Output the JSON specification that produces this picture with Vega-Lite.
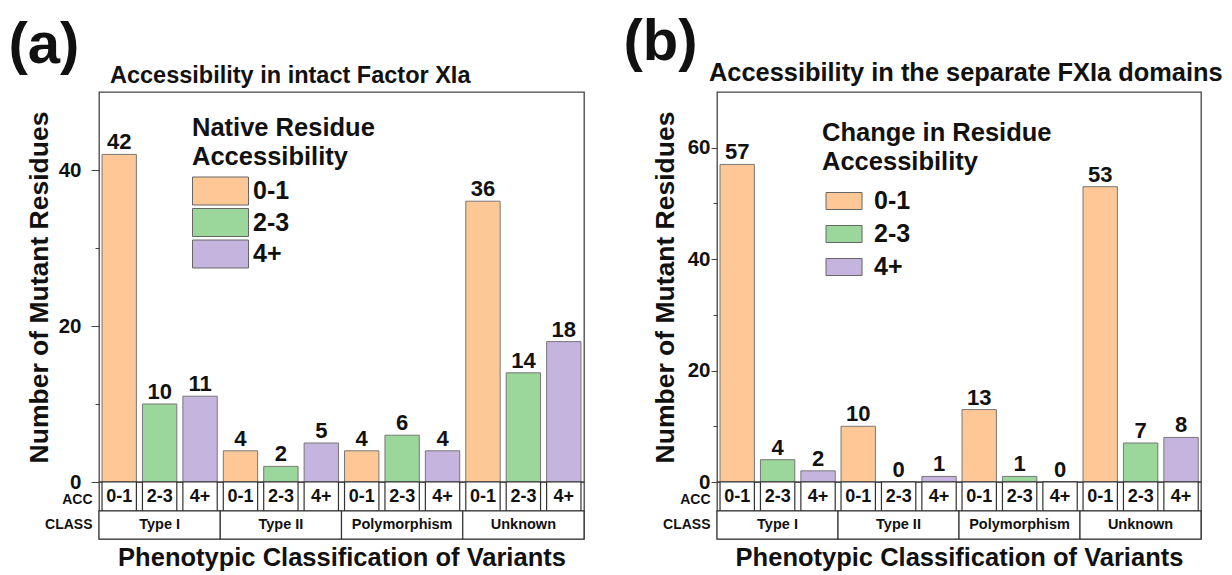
{
  "$schema": "https://vega.github.io/schema/vega-lite/v6.json",
  "background": "white",
  "padding": {"left": 8, "top": 13, "right": 0, "bottom": 0},
  "config": {
    "font": "Liberation Sans",
    "view": {"stroke": "#444", "strokeWidth": 1.3},
    "axis": {"labelColor": "#111", "titleColor": "#111", "grid": false},
    "text": {"color": "#111"},
    "title": {"color": "#111"},
    "legend": {"labelColor": "#111", "titleColor": "#111"}
  },
  "datasets": {
    "a": [
      {"cls": "Type I", "acc": "0-1", "n": 42},
      {"cls": "Type I", "acc": "2-3", "n": 10},
      {"cls": "Type I", "acc": "4+", "n": 11},
      {"cls": "Type II", "acc": "0-1", "n": 4},
      {"cls": "Type II", "acc": "2-3", "n": 2},
      {"cls": "Type II", "acc": "4+", "n": 5},
      {"cls": "Polymorphism", "acc": "0-1", "n": 4},
      {"cls": "Polymorphism", "acc": "2-3", "n": 6},
      {"cls": "Polymorphism", "acc": "4+", "n": 4},
      {"cls": "Unknown", "acc": "0-1", "n": 36},
      {"cls": "Unknown", "acc": "2-3", "n": 14},
      {"cls": "Unknown", "acc": "4+", "n": 18}
    ],
    "b": [
      {"cls": "Type I", "acc": "0-1", "n": 57},
      {"cls": "Type I", "acc": "2-3", "n": 4},
      {"cls": "Type I", "acc": "4+", "n": 2},
      {"cls": "Type II", "acc": "0-1", "n": 10},
      {"cls": "Type II", "acc": "2-3", "n": 0},
      {"cls": "Type II", "acc": "4+", "n": 1},
      {"cls": "Polymorphism", "acc": "0-1", "n": 13},
      {"cls": "Polymorphism", "acc": "2-3", "n": 1},
      {"cls": "Polymorphism", "acc": "4+", "n": 0},
      {"cls": "Unknown", "acc": "0-1", "n": 53},
      {"cls": "Unknown", "acc": "2-3", "n": 7},
      {"cls": "Unknown", "acc": "4+", "n": 8}
    ],
    "classes": [
      {"cls": "Type I"},
      {"cls": "Type II"},
      {"cls": "Polymorphism"},
      {"cls": "Unknown"}
    ]
  },
  "resolve": {"scale": {"color": "independent"}, "legend": {"color": "independent"}},
  "spacing": 37,
  "hconcat": [
    {
      "title": {"text": "(a)", "fontSize": 58, "fontWeight": "bold", "anchor": "start", "frame": "bounds", "dx": -17, "offset": -12},
      "spacing": 0,
      "bounds": "flush",
      "vconcat": [
        {
          "width": 485,
          "height": 390,
          "title": {"text": "Accessibility in intact Factor XIa", "anchor": "start", "frame": "group", "dx": 11, "offset": 5, "fontSize": 23.5, "fontWeight": "bold"},
          "data": {"name": "a"},
          "encoding": {
            "x": {"field": "cls", "type": "nominal", "sort": ["Type I", "Type II", "Polymorphism", "Unknown"], "scale": {"paddingInner": 0, "paddingOuter": 0}, "axis": null},
            "xOffset": {"field": "acc", "type": "nominal", "sort": ["0-1", "2-3", "4+"], "scale": {"paddingInner": 0.15, "paddingOuter": 0.075}},
            "y": {
              "field": "n", "type": "quantitative",
              "scale": {"domain": [0, 50], "nice": false},
              "axis": {
                "title": "Number of Mutant Residues", "titleFontSize": 26.5, "titleFontWeight": "bold", "titlePadding": 5,
                "values": [0, 10, 20, 30, 40],
                "labelExpr": "datum.value % 20 === 0 ? datum.label : ''",
                "labelFontSize": 20.5, "labelFontWeight": "bold", "labelPadding": 10,
                "labelOverlap": false, "labelFlush": false,
                "tickSize": {"condition": {"test": "datum.value % 20 === 0", "value": 8}, "value": 4},
                "tickColor": "#444", "domain": false, "grid": false
              }
            }
          },
          "layer": [
            {
              "mark": {"type": "bar", "stroke": "#777", "strokeWidth": 1},
              "encoding": {
                "color": {
                  "field": "acc", "type": "nominal",
                  "scale": {"domain": ["0-1", "2-3", "4+"], "range": ["#FEC796", "#9BD69A", "#C5B4DE"]},
                  "legend": {
                    "title": ["Native Residue", "Accessibility"],
                    "orient": "none", "legendX": 93, "legendY": 24,
                    "titleFontSize": 25.5, "titleFontWeight": "bold", "titleLineHeight": 29, "titlePadding": 6, "titleLimit": 400,
                    "labelFontSize": 25, "labelFontWeight": "bold", "labelOffset": 32,
                    "symbolType": "M-1,-1L3,-1L3,1L-1,1Z", "symbolSize": 784,
                    "rowPadding": -1.5,
                    "symbolStrokeColor": "#666", "symbolStrokeWidth": 1,
                    "encode": {"symbols": {"update": {"stroke": {"value": "#666"}, "strokeWidth": {"value": 1}}}}
                  }
                }
              }
            },
            {
              "mark": {"type": "text", "baseline": "alphabetic", "dy": -5, "fontSize": 22, "fontWeight": "bold"},
              "encoding": {"text": {"field": "n", "type": "quantitative"}}
            }
          ]
        },
        {
          "width": 485,
          "height": 29,
          "data": {"name": "a"},
          "encoding": {
            "x": {"field": "cls", "type": "nominal", "sort": ["Type I", "Type II", "Polymorphism", "Unknown"], "scale": {"paddingInner": 0, "paddingOuter": 0}, "axis": null},
            "xOffset": {"field": "acc", "type": "nominal", "sort": ["0-1", "2-3", "4+"], "scale": {"paddingInner": 0, "paddingOuter": 0}},
            "y": {"datum": "ACC", "type": "nominal", "scale": {"paddingInner": 0, "paddingOuter": 0}, "axis": {"title": null, "ticks": false, "domain": false, "labelFontSize": 14, "labelFontWeight": "bold", "labelPadding": 7, "labelBaseline": "top", "labelOffset": -4}}
          },
          "layer": [
            {"mark": {"type": "rect", "fill": "white", "stroke": "#333", "strokeWidth": 1.2}},
            {"mark": {"type": "text", "fontSize": 18, "fontWeight": "bold"}, "encoding": {"text": {"field": "acc", "type": "nominal"}}}
          ]
        },
        {
          "width": 485,
          "height": 28,
          "data": {"name": "classes"},
          "encoding": {
            "x": {"field": "cls", "type": "nominal", "sort": ["Type I", "Type II", "Polymorphism", "Unknown"], "scale": {"paddingInner": 0, "paddingOuter": 0},
                  "axis": {"title": "Phenotypic Classification of Variants", "labels": false, "ticks": false, "domain": false, "titleFontSize": 25.5, "titleFontWeight": "bold", "titlePadding": 6}},
            "y": {"datum": "CLASS", "type": "nominal", "scale": {"paddingInner": 0, "paddingOuter": 0}, "axis": {"title": null, "ticks": false, "domain": false, "labelFontSize": 14, "labelFontWeight": "bold", "labelPadding": 7}}
          },
          "layer": [
            {"mark": {"type": "rect", "fill": "white", "stroke": "#333", "strokeWidth": 1.2}},
            {"mark": {"type": "text", "fontSize": 14.5, "fontWeight": "bold"}, "encoding": {"text": {"field": "cls", "type": "nominal"}}}
          ]
        }
      ]
    },
    {
      "title": {"text": "(b)", "fontSize": 58, "fontWeight": "bold", "anchor": "start", "frame": "bounds", "dx": -28, "offset": -12},
      "spacing": 0,
      "bounds": "flush",
      "vconcat": [
        {
          "width": 484,
          "height": 390,
          "title": {"text": "Accessibility in the separate FXIa domains", "anchor": "start", "frame": "group", "dx": -8, "offset": 6, "fontSize": 25.4, "fontWeight": "bold"},
          "data": {"name": "b"},
          "encoding": {
            "x": {"field": "cls", "type": "nominal", "sort": ["Type I", "Type II", "Polymorphism", "Unknown"], "scale": {"paddingInner": 0, "paddingOuter": 0}, "axis": null},
            "xOffset": {"field": "acc", "type": "nominal", "sort": ["0-1", "2-3", "4+"], "scale": {"paddingInner": 0.15, "paddingOuter": 0.075}},
            "y": {
              "field": "n", "type": "quantitative",
              "scale": {"domain": [0, 70], "nice": false},
              "axis": {
                "title": "Number of Mutant Residues", "titleFontSize": 26.5, "titleFontWeight": "bold", "titlePadding": 8,
                "values": [0, 10, 20, 30, 40, 50, 60],
                "labelExpr": "datum.value % 20 === 0 ? datum.label : ''",
                "labelFontSize": 20.5, "labelFontWeight": "bold", "labelPadding": 1,
                "labelOverlap": false, "labelFlush": false,
                "tickSize": {"condition": {"test": "datum.value % 20 === 0", "value": 6}, "value": 4},
                "tickColor": "#444", "domain": false, "grid": false
              }
            }
          },
          "layer": [
            {
              "mark": {"type": "bar", "stroke": "#777", "strokeWidth": 1},
              "encoding": {
                "color": {
                  "field": "acc", "type": "nominal",
                  "scale": {"domain": ["0-1", "2-3", "4+"], "range": ["#FEC796", "#9BD69A", "#C5B4DE"]},
                  "legend": {
                    "title": ["Change in Residue", "Accessibility"],
                    "orient": "none", "legendX": 105, "legendY": 29,
                    "titleFontSize": 25.5, "titleFontWeight": "bold", "titleLineHeight": 29, "titlePadding": 13, "titleLimit": 400,
                    "labelFontSize": 25, "labelFontWeight": "bold", "labelOffset": 27,
                    "symbolType": "M-1,-1L3.24,-1L3.24,1L-1,1Z", "symbolSize": 289,
                    "rowPadding": 7,
                    "symbolStrokeColor": "#666", "symbolStrokeWidth": 1,
                    "encode": {"symbols": {"update": {"stroke": {"value": "#666"}, "strokeWidth": {"value": 1}}}}
                  }
                }
              }
            },
            {
              "mark": {"type": "text", "baseline": "alphabetic", "dy": -5, "fontSize": 22, "fontWeight": "bold"},
              "encoding": {"text": {"field": "n", "type": "quantitative"}}
            }
          ]
        },
        {
          "width": 484,
          "height": 29,
          "data": {"name": "b"},
          "encoding": {
            "x": {"field": "cls", "type": "nominal", "sort": ["Type I", "Type II", "Polymorphism", "Unknown"], "scale": {"paddingInner": 0, "paddingOuter": 0}, "axis": null},
            "xOffset": {"field": "acc", "type": "nominal", "sort": ["0-1", "2-3", "4+"], "scale": {"paddingInner": 0, "paddingOuter": 0}},
            "y": {"datum": "ACC", "type": "nominal", "scale": {"paddingInner": 0, "paddingOuter": 0}, "axis": {"title": null, "ticks": false, "domain": false, "labelFontSize": 14, "labelFontWeight": "bold", "labelPadding": 7, "labelBaseline": "top", "labelOffset": -4}}
          },
          "layer": [
            {"mark": {"type": "rect", "fill": "white", "stroke": "#333", "strokeWidth": 1.2}},
            {"mark": {"type": "text", "fontSize": 18, "fontWeight": "bold"}, "encoding": {"text": {"field": "acc", "type": "nominal"}}}
          ]
        },
        {
          "width": 484,
          "height": 28,
          "data": {"name": "classes"},
          "encoding": {
            "x": {"field": "cls", "type": "nominal", "sort": ["Type I", "Type II", "Polymorphism", "Unknown"], "scale": {"paddingInner": 0, "paddingOuter": 0},
                  "axis": {"title": "Phenotypic Classification of Variants", "labels": false, "ticks": false, "domain": false, "titleFontSize": 25.5, "titleFontWeight": "bold", "titlePadding": 6}},
            "y": {"datum": "CLASS", "type": "nominal", "scale": {"paddingInner": 0, "paddingOuter": 0}, "axis": {"title": null, "ticks": false, "domain": false, "labelFontSize": 14, "labelFontWeight": "bold", "labelPadding": 7}}
          },
          "layer": [
            {"mark": {"type": "rect", "fill": "white", "stroke": "#333", "strokeWidth": 1.2}},
            {"mark": {"type": "text", "fontSize": 14.5, "fontWeight": "bold"}, "encoding": {"text": {"field": "cls", "type": "nominal"}}}
          ]
        }
      ]
    }
  ]
}
